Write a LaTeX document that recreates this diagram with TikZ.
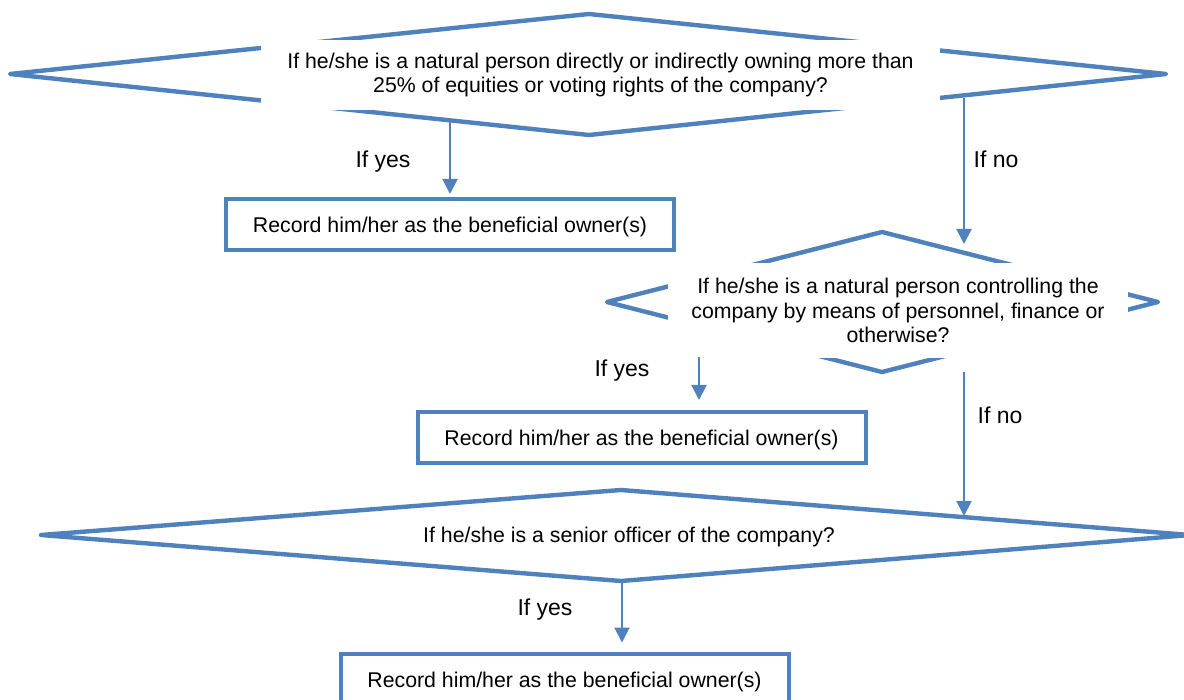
\documentclass[tikz,border=0pt]{standalone}
\usepackage{fontspec}
\setmainfont{Liberation Sans}
\usetikzlibrary{arrows.meta}
\definecolor{office}{RGB}{79, 129, 189}

\begin{document}
\begin{tikzpicture}[x=0.5pt, y=-0.5pt,
    dia/.style={office, line width=2.2pt, line join=round},
    qtext/.style={fill=white, align=center, inner sep=0pt,
      font=\fontsize{10.65}{12.2}\selectfont},
    record/.style={draw=office, line width=2pt, minimum width=224pt,
      minimum height=25.5pt, inner sep=0pt, text height=9.4pt, text depth=1pt,
      font=\fontsize{10.65}{12.2}\selectfont},
    arr/.style={office, line width=1pt, -{Triangle[width=7.5pt, length=7.5pt]}},
    answer/.style={font=\fontsize{11.5}{13}\selectfont}]
  \useasboundingbox[fill=white] (0, 0) rectangle (1184, 700);

  % first question
  \draw[dia] (10, 74) -- (589, 14) -- (1166, 74) -- (589, 135) -- cycle;
  \node[qtext, minimum width=339.5pt, minimum height=35pt] (q1) at (600.5, 75)
    {If he/she is a natural person directly or indirectly owning more than\\
     25\% of equities or voting rights of the company?};

  % second question
  \draw[dia] (607, 302) -- (882, 232) -- (1158, 302) -- (882, 372) -- cycle;
  \node[qtext, minimum width=230pt, minimum height=47.5pt] (q2) at (898, 310.5)
    {If he/she is a natural person controlling the\\
     company by means of personnel, finance or\\
     otherwise?};

  % third question
  \draw[dia] (41, 535) -- (621, 490) -- (1190, 535) -- (621, 581) -- cycle;
  \node[qtext] (q3) at (629, 537) {If he/she is a senior officer of the company?};

  % results
  \node[record] (r1) at (450, 224.5) {Record him/her as the beneficial owner(s)};
  \node[record] (r2) at (641.5, 437.5) {Record him/her as the beneficial owner(s)};
  \node[record] (r3) at (564.5, 679) {Record him/her as the beneficial owner(s)};

  \coordinate (y1) at (450, 120);
  \coordinate (n1) at (964, 98);
  \coordinate (n1end) at (964, 244);
  \coordinate (y2) at (699, 357);
  \coordinate (n2) at (964, 372);
  \coordinate (n2end) at (964, 516);
  \coordinate (y3) at (622, 581);

  \draw[arr, shorten >=1.5pt] (y1) -- (r1.north);
  \draw[arr] (n1) -- (n1end);
  \draw[arr, shorten >=5pt] (y2) -- (y2 |- r2.north);
  \draw[arr] (n2) -- (n2end);
  \draw[arr, shorten >=4.5pt] (y3) -- (y3 |- r3.north);

  \node[answer] (a1) at (383, 162) {If yes};
  \node[answer] (a2) at (996, 159) {If no};
  \node[answer] (a3) at (622, 371) {If yes};
  \node[answer] (a4) at (1000, 415) {If no};
  \node[answer] (a5) at (545, 610) {If yes};
\end{tikzpicture}
\end{document}
